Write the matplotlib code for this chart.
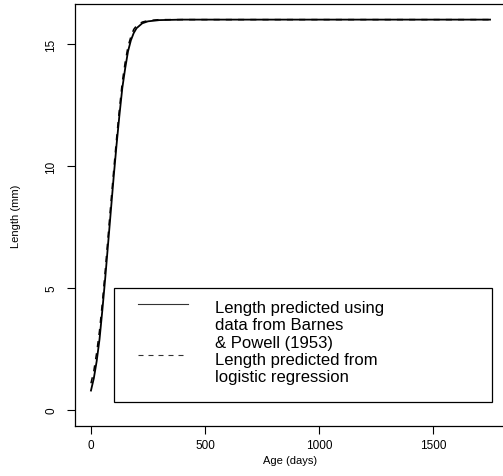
import matplotlib
matplotlib.use("Agg")
import matplotlib.pyplot as plt
from matplotlib.patches import Rectangle

plt.rcParams['font.family'] = ['Liberation Sans', 'DejaVu Sans']

# curvas (edad en dias, largo en mm)
edad = [0, 12.5, 25, 37.5, 50, 62.5, 75, 87.5, 100, 112.5, 125, 137.5, 150,
        162.5, 175, 187.5, 200, 225, 250, 300, 400, 1750]
largo_barnes = [0.8, 1.3, 2.0, 2.9, 4.1, 5.4, 6.8, 8.2, 9.6, 10.9, 12.1, 13.2, 14.0,
                14.7, 15.15, 15.45, 15.65, 15.85, 15.93, 15.98, 16.0, 16.0]
largo_logistica = [1.1, 1.6, 2.35, 3.25, 4.4, 5.7, 7.1, 8.5, 9.85, 11.15, 12.35, 13.45, 14.25,
                   14.9, 15.3, 15.6, 15.75, 15.9, 15.96, 16.0, 16.0, 16.0]

ticks_x = [0, 500, 1000, 1500]
ticks_y = [0, 5, 10, 15]
lineas_leyenda = ["Length predicted using", "data from Barnes", "& Powell (1953)",
                  "Length predicted from", "logistic regression"]

fig = plt.figure(figsize=(5.03, 4.77), dpi=100)
ax = fig.add_axes([75/503, (477-426.7)/477, (506-75)/503, (426.7-5)/477])

ax.plot(edad, largo_barnes, color="black", lw=1.3)
ax.plot(edad, largo_logistica, color="black", lw=1.1, linestyle=(0, (4, 4)))

ax.set_xlim(-70, 1820)
ax.set_ylim(-0.64, 16.64)
ax.set_xticks(ticks_x)
ax.set_yticks(ticks_y)
ax.set_xticklabels([str(t) for t in ticks_x], fontsize=8.5)
ax.set_yticklabels([str(t) for t in ticks_y], fontsize=8.5, rotation=90, va="center")
ax.tick_params(direction="out", length=5.8, width=0.8)
ax.tick_params(axis="x", pad=3.5)
ax.tick_params(axis="y", pad=7)
for s in ax.spines.values():
    s.set_linewidth(0.9)

ax.set_xlabel("Age (days)", fontsize=8)
ax.set_ylabel("Length (mm)", fontsize=8)
ax.xaxis.set_label_coords(0.5, -0.07)
ax.yaxis.set_label_coords(-0.125, 0.5)

# leyenda dibujada a mano, como la de R
caja = Rectangle((100, 0.32), 1657, 4.68, fill=False, edgecolor="black", lw=0.9, zorder=3)
ax.add_patch(caja)
ax.plot([206, 425], [4.34, 4.34], color="#333333", lw=0.8)
ax.plot([206, 425], [2.25, 2.25], color="#333333", lw=0.8, linestyle=(0, (4.5, 4.5)))
base_y = [4.03, 3.32, 2.57, 1.885, 1.20]
for texto, y in zip(lineas_leyenda, base_y):
    ax.text(544, y, texto, fontsize=12, va="baseline", ha="left")

fig.savefig("out.png", dpi=100)
